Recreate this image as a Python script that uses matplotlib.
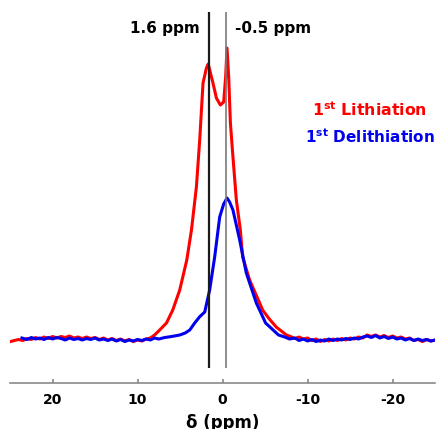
import numpy as np
import matplotlib.pyplot as plt

# spectra: chemical shift (ppm) and intensity (a.u.)
lith_ppm = [25.0, 24.5, 24.0, 23.5, 23.0, 22.5, 22.0, 21.5, 21.0, 20.5, 20.0, 19.5, 19.0, 18.5,
            18.0, 17.5, 17.0, 16.5, 16.0, 15.5, 15.0, 14.5, 14.0, 13.5, 13.0, 12.5, 12.0, 11.5,
            11.0, 10.5, 10.0, 9.5, 9.0, 8.5, 8.0, 7.4, 6.6, 5.86, 5.04, 4.21, 3.66, 3.08, 2.69,
            2.30, 1.90, 1.69, 1.13, 0.73, 0.26, -0.13, -0.36, -0.52, -0.72, -0.92, -1.22, -1.62,
            -2.09, -2.36, -3.18, -4.36, -4.71, -5.5, -6.31, -7.06, -7.5, -8.0, -8.5, -9.0, -9.5,
            -10.0, -10.5, -11.0, -11.5, -12.0, -12.5, -13.0, -13.5, -14.0, -14.5, -15.0, -15.5,
            -16.0, -16.5, -17.0, -17.5, -18.0, -18.5, -19.0, -19.5, -20.0, -20.5, -21.0, -21.5,
            -22.0, -22.5, -23.0, -23.5, -24.0, -24.5, -25.0]
lith_int = [-1.7, -0.5, 0.5, -0.5, 1.5, 0.5, 2.5, 1.0, 3.0, 1.5, 3.5, 2.0, 3.5, 2.5,
            4.0, 2.0, 3.0, 1.5, 3.0, 1.5, 2.5, 0.5, 2.0, 0.0, 1.5, -0.5, 1.0, -1.0,
            0.5, -1.5, 0.0, -1.0, 1.0, 2.0, 5.0, 10, 17, 30, 50, 80, 110, 153, 200,
            257, 272, 276, 257, 242, 235, 238, 263, 292, 263, 217, 183, 140,
            110, 83, 60, 37, 30, 21, 13, 8, 5, 3.5, 1.5, 3.0, 1.0,
            2.0, -0.5, 1.0, -1.5, 0.5, -1.0, 1.0, -0.5, 1.5, 0.0, 2.0, 1.0,
            3.0, 2.0, 5.0, 3.5, 5.0, 3.0, 4.5, 2.5, 4.0, 2.0, 3.0, 1.0,
            2.0, -0.5, 0.5, -1.5, 0.5, -1.0, 0.0]

delith_ppm = [23.6, 23.0, 22.5, 22.0, 21.5, 21.0, 20.5, 20.0, 19.5, 19.0, 18.5, 18.0, 17.5,
              17.0, 16.5, 16.0, 15.5, 15.0, 14.5, 14.0, 13.5, 13.0, 12.5, 12.0, 11.5, 11.0,
              10.5, 10.0, 9.5, 9.0, 8.5, 8.0, 7.5, 6.8, 6.0, 5.04, 4.4, 3.86, 3.28, 2.69, 2.10,
              1.52, 0.93, 0.34, -0.13, -0.52, -0.83, -1.22, -2.01, -2.79, -3.97, -5.06, -5.53,
              -6.58, -7.3, -7.88, -8.5, -9.0, -9.5, -10.0, -10.5, -11.0, -11.5, -12.0, -12.5,
              -13.0, -13.5, -14.0, -14.5, -15.0, -15.5, -16.0, -16.5, -17.0, -17.5, -18.0, -18.5,
              -19.0, -19.5, -20.0, -20.5, -21.0, -21.5, -22.0, -22.5, -23.0, -23.5, -24.0,
              -24.5, -25.0]
delith_int = [2.0, 0.5, 2.5, 1.0, 2.0, 0.5, 2.5, 1.0, 2.5, 1.5, 0.0, 2.0, 0.5,
              1.5, 0.0, 1.5, 0.5, 2.0, 0.0, 1.0, -0.5, 1.0, -1.0, 0.5, -1.5, 0.0,
              -1.0, 0.5, -0.5, 1.0, 0.0, 2.0, 1.0, 2.5, 3.5, 5.0, 7.0, 10, 17, 23.3, 28,
              50, 83, 123, 136, 142, 138, 130, 100, 67, 37, 17, 13.3,
              5.0, 3.0, 1.0, 2.0, -0.5, 1.0, -1.0, 0.5, -1.5, 0.0, -1.0, 1.0,
              -0.5, 1.0, 0.0, 1.5, 0.5, 2.0, 1.0, 3.0, 4.0, 2.5, 4.5, 2.0,
              3.5, 1.5, 3.0, 1.0, 2.0, 0.0, 1.5, -0.5, 1.0, -0.5, 0.5,
              -1.0, 0.0]

peak_ppm = [1.65, -0.35]
peak_labels = ["1.6 ppm", "-0.5 ppm"]
xticks = [20, 10, 0, -10, -20]

fig = plt.figure(figsize=(4.36, 4.29), dpi=100)
ax = fig.add_axes([0.023, 0.1065, 0.975, 0.8935])

ax.plot(lith_ppm, lith_int, color="#ff0000", lw=2.2)
ax.plot(delith_ppm, delith_int, color="#0000ee", lw=2.2)

# marker lines for the two resonances
ax.vlines(peak_ppm[0], -28, 328, color="#1a1a1a", lw=1.6)
ax.vlines(peak_ppm[1], -28, 328, color="#7a7a7a", lw=1.2)

ax.text(2.69, 312, peak_labels[0], ha="right", va="center", fontsize=11, fontweight="bold")
ax.text(-1.42, 312, peak_labels[1], ha="left", va="center", fontsize=11, fontweight="bold")

ax.text(-17.3, 230, r"1$^{\mathbf{st}}$ Lithiation", color="#ff0000", ha="center", va="center",
        fontsize=11.3, fontweight="bold")
ax.text(-17.3, 203, r"1$^{\mathbf{st}}$ Delithiation", color="#0000ee", ha="center", va="center",
        fontsize=11, fontweight="bold")

ax.set_xlim(25, -25)
ax.set_ylim(-43.3, 340)
ax.set_xticks(xticks)
ax.set_xticklabels([str(t) for t in xticks], fontsize=10, fontweight="bold")
ax.set_yticks([])
for s in ["top", "left", "right"]:
    ax.spines[s].set_visible(False)
ax.spines["bottom"].set_color("#808080")
ax.spines["bottom"].set_linewidth(1.1)
ax.tick_params(axis="x", direction="in", length=3, width=1.1, color="#808080", pad=7)
ax.set_xlabel(r"δ (ppm)", fontsize=12, fontweight="bold", labelpad=5)

fig.savefig("out.png", dpi=100)
